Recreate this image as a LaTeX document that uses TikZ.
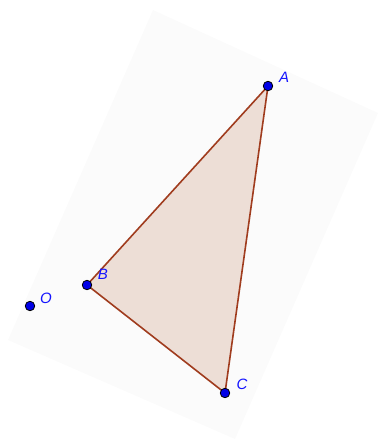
\documentclass[tikz,border=0pt]{standalone}
\usepackage{fontspec}
\setmainfont{Liberation Sans}
\definecolor{bgray}{RGB}{251,251,251}
\definecolor{edge}{RGB}{160,60,30}
\definecolor{tfill}{RGB}{237,222,214}
\definecolor{ptblue}{RGB}{0,0,230}
\definecolor{lblue}{RGB}{20,20,255}
\begin{document}
\begin{tikzpicture}[x=1pt,y=-1pt,
  pt/.style={circle,fill=ptblue,draw=black,line width=0.8pt,inner sep=0pt,minimum size=9.5pt},
  lbl/.style={text=lblue,font=\itshape\fontsize{15}{15}\selectfont,inner sep=0pt},
  side/.style={draw=edge,line width=1.6pt}]
\useasboundingbox (0,0) rectangle (378,439);
\fill[bgray] (153,10) -- (378,113) -- (235,439) -- (8,340) -- cycle;
\coordinate (a) at (268,86);
\coordinate (b) at (87,285);
\coordinate (c) at (225,393);
\fill[tfill] (a) -- (b) -- (c) -- cycle;
\draw[side] (a) -- (b);
\draw[side] (b) -- (c);
\draw[side] (c) -- (a);
\node[pt] (A) at (a) {};
\node[pt] (B) at (b) {};
\node[pt] (C) at (c) {};
\node[pt] (O) at (30,306) {};
\node[lbl] (lA) at (284,77) {A};
\node[lbl] (lB) at (103,274) {B};
\node[lbl] (lC) at (242,384) {C};
\node[lbl] (lO) at (46,298) {O};
\end{tikzpicture}
\end{document}
